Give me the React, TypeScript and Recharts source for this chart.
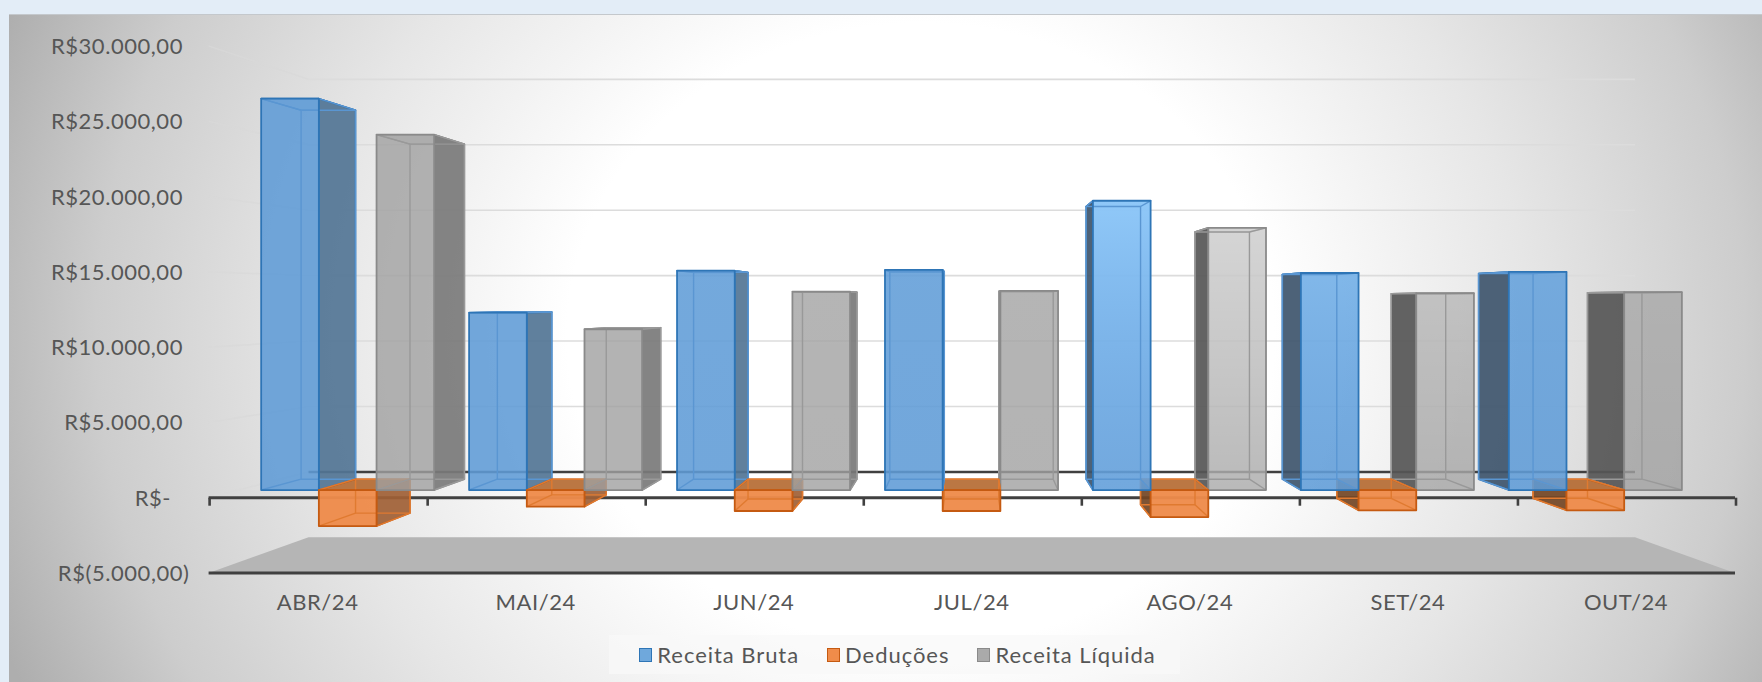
import React from "react";
import { ComposedChart, Bar, XAxis, YAxis, Legend } from "recharts";

const months = ["ABR/24", "MAI/24", "JUN/24", "JUL/24", "AGO/24", "SET/24", "OUT/24"];
const receitaBruta = [27050, 12260, 15160, 15210, 19990, 15000, 15070];
const deducoes = [-2490, -1150, -1450, -1450, -1870, -1400, -1400];
const receitaLiquida = [24560, 11110, 13710, 13760, 18120, 13600, 13670];
const yTicks = [-5000, 0, 5000, 10000, 15000, 20000, 25000, 30000];

// how much the light catches each month's front face (excel 3d lighting)
const faceLight = [0, 0, 0.05, 0.05, 0.9, 0.45, 0.15];

const rows = months.map((month, i) => ({
  month,
  bruta: receitaBruta[i],
  deducoes: deducoes[i],
  liquida: receitaLiquida[i],
}));

const W = 1762;
const H = 682;
const PLOT_LEFT = 208.6;
const PLOT_RIGHT = 1735;
const FONT = "Lato, 'Open Sans', sans-serif";
const TEXT = "#565656";

// perspective: everything shrinks towards one point as it goes back
const VX = 971.5;
const VY = 300.6;
const NEAR_X = 0.9536;
const NEAR_Y = 0.961;
const FAR_X = 0.9;
const FAR_Y = 0.906;
const BACK = 0.869;

const px = (x: number, s: number) => VX + (x - VX) * s;
const py = (y: number, s: number) => VY + (y - VY) * s;

type Palette = {
  face: string;
  faceOpacity: number;
  edge: string;
  inner: string;
  wallRight: string;
  wallLeft: string;
  top: string;
  topOpacity: number;
  swatch: string;
  glow: string | null;
};

const BLUE: Palette = {
  face: "#5f9bd6",
  faceOpacity: 0.88,
  edge: "#2e75b6",
  inner: "#5a96d2",
  wallRight: "#527595",
  wallLeft: "#3e556d",
  top: "#5f9bd6",
  topOpacity: 0.2,
  swatch: "#6fa8dc",
  glow: "url(#glowBlue)",
};
const ORANGE: Palette = {
  face: "#ee8b4b",
  faceOpacity: 0.96,
  edge: "#c55a11",
  inner: "#e07a30",
  wallRight: "#9f6035",
  wallLeft: "#734524",
  top: "#b4682f",
  topOpacity: 0.9,
  swatch: "#f08c4a",
  glow: null,
};
const GRAY: Palette = {
  face: "#a0a0a0",
  faceOpacity: 0.8,
  edge: "#8a8a8a",
  inner: "#999999",
  wallRight: "#7a7a7a",
  wallLeft: "#565656",
  top: "#9a9a9a",
  topOpacity: 0.15,
  swatch: "#aaaaaa",
  glow: "url(#glowGray)",
};

const palettes: Record<string, Palette> = { bruta: BLUE, deducoes: ORANGE, liquida: GRAY };

// paint order per layer: back to front, and the order flips right of the vanishing point
const FIRST_RIGHT_SIDE = 3;
const layerSeries = [
  { left: "bruta", right: "liquida" },
  { left: "deducoes", right: "deducoes" },
  { left: "liquida", right: "bruta" },
];

function poly(points: number[][]) {
  return points.map((p) => p.join(",")).join(" ");
}

function Box3D(props: any) {
  const { x, y, width, height, index, palette } = props;
  const p: Palette = palette;
  const left = x;
  const right = x + width;
  const top = Math.min(y, y + height);
  const bottom = Math.max(y, y + height);

  const nl = px(left, NEAR_X);
  const nr = px(right, NEAR_X);
  const nt = py(top, NEAR_Y);
  const nb = py(bottom, NEAR_Y);
  const fl = px(left, FAR_X);
  const fr = px(right, FAR_X);
  const ft = py(top, FAR_Y);
  const fb = py(bottom, FAR_Y);

  const showRight = fr > nr;
  const showLeft = fl < nl;
  const light = faceLight[index] ?? 0;

  return (
    <g strokeLinejoin="round">
      {/* top face, seen from above on the negative boxes */}
      <polygon points={poly([[nl, nt], [nr, nt], [fr, ft], [fl, ft]])} fill={p.top} fillOpacity={p.topOpacity} stroke={p.edge} strokeWidth={1.5} />
      {showRight && (
        <polygon points={poly([[nr, nt], [fr, ft], [fr, fb], [nr, nb]])} fill={p.wallRight} fillOpacity={0.92} stroke={p.edge} strokeWidth={1.5} />
      )}
      {showLeft && (
        <polygon points={poly([[nl, nt], [fl, ft], [fl, fb], [nl, nb]])} fill={p.wallLeft} fillOpacity={0.92} stroke={p.edge} strokeWidth={1.5} />
      )}
      <rect x={nl} y={nt} width={nr - nl} height={nb - nt} fill={p.face} fillOpacity={p.faceOpacity} />
      {light > 0 && p.glow && <rect x={nl} y={nt} width={nr - nl} height={nb - nt} fill={p.glow} opacity={light} />}
      {/* back edges showing through the glass */}
      <g fill="none" stroke={p.inner} strokeWidth={1.4}>
        <rect x={fl} y={ft} width={fr - fl} height={fb - ft} />
        <line x1={nl} y1={nt} x2={fl} y2={ft} />
        <line x1={nr} y1={nb} x2={fr} y2={fb} />
        <line x1={nl} y1={nb} x2={fl} y2={fb} />
        <line x1={nr} y1={nt} x2={fr} y2={ft} />
      </g>
      <rect x={nl} y={nt} width={nr - nl} height={nb - nt} fill="none" stroke={p.edge} strokeWidth={1.8} />
    </g>
  );
}

function moneyLabel(v: number) {
  if (v === 0) return "R$-";
  const txt = Math.abs(v).toLocaleString("pt-BR", { minimumFractionDigits: 2 });
  return v < 0 ? `R$(${txt})` : `R$${txt}`;
}

// side wall, back wall, floor and the zero line; sits in the chart behind the boxes
function WallTick(props: any) {
  const { y, payload } = props;
  const v: number = payload.value;
  const backY = py(y, BACK);
  const backL = px(PLOT_LEFT, BACK);
  const backR = px(PLOT_RIGHT, BACK);
  const step = (PLOT_RIGHT - PLOT_LEFT) / months.length;

  return (
    <g>
      {v < 0 ? (
        <polygon points={poly([[PLOT_LEFT, y], [backL, backY], [backR, backY], [PLOT_RIGHT, y]])} fill="#b5b5b5" />
      ) : (
        <line x1={PLOT_LEFT} y1={y} x2={backL} y2={backY} stroke="#d9d9d9" strokeOpacity={0.7} strokeWidth={1.5} />
      )}
      {v > 0 && <line x1={backL} y1={backY} x2={backR} y2={backY} stroke="#dcdcdc" strokeWidth={1.6} />}
      {v === 0 && (
        <g stroke="#404040">
          <line x1={backL} y1={backY} x2={backR} y2={backY} strokeWidth={2.5} />
          <line x1={PLOT_LEFT} y1={y} x2={PLOT_RIGHT} y2={y} strokeWidth={3} />
          {[...months, ""].map((m, i) => (
            <line key={i} x1={PLOT_LEFT + i * step + 1} y1={y} x2={PLOT_LEFT + i * step + 1} y2={y + 8} strokeWidth={2.6} />
          ))}
        </g>
      )}
    </g>
  );
}

function MoneyTick(props: any) {
  const { y, payload } = props;
  const v: number = payload.value;
  const labelX = v === 0 ? 171 : v < 0 ? 189.5 : 183;
  return (
    <text x={labelX} y={y} dy={8} textAnchor="end" fontFamily={FONT} fontSize={22} letterSpacing={0.55} fill={TEXT}>
      {moneyLabel(v)}
    </text>
  );
}

function LegendBox({ payload }: any) {
  return (
    <div
      style={{
        display: "flex",
        alignItems: "center",
        justifyContent: "center",
        height: 39,
        paddingLeft: 6,
        boxSizing: "border-box",
        background: "rgba(248,248,248,0.75)",
        fontFamily: FONT,
        fontSize: 22,
        letterSpacing: 0.95,
        color: TEXT,
      }}
    >
      {(payload ?? []).map((entry: any) => {
        const p = palettes[entry.dataKey];
        return (
          <span key={entry.dataKey} style={{ display: "inline-flex", alignItems: "center", margin: "0 14px" }}>
            <span
              style={{
                width: 11,
                height: 12,
                marginRight: 5,
                background: p.swatch,
                border: `1.5px solid ${p.edge}`,
              }}
            />
            {entry.value}
          </span>
        );
      })}
    </div>
  );
}

const chartProps = {
  width: W,
  height: H,
  data: rows,
  margin: { top: 46, right: W - PLOT_RIGHT, bottom: 0, left: 0 },
  barGap: 0,
  barSize: 60.5,
};
const layer = { position: "absolute", left: 0, top: 0 } as const;
const yAxisProps = {
  type: "number",
  width: PLOT_LEFT,
  domain: [-5000, 30000],
  ticks: yTicks,
  interval: 0,
  axisLine: false,
  tickLine: false,
} as const;

const seriesBars = [
  { key: "bruta", name: "Receita Bruta", palette: BLUE },
  { key: "deducoes", name: "Deduções", palette: ORANGE },
  { key: "liquida", name: "Receita Líquida", palette: GRAY },
];

// all three series stay in every layer so the band slots match; only the ones due are painted
function boxBars(order: { left: string; right: string }) {
  return seriesBars.map((s) => (
    <Bar
      key={s.key}
      dataKey={s.key}
      name={s.name}
      fill={s.palette.swatch}
      isAnimationActive={false}
      shape={(p: any) =>
        (p.index >= FIRST_RIGHT_SIDE ? order.right : order.left) === s.key ? <Box3D {...p} palette={s.palette} /> : <g />
      }
    />
  ));
}

export default function App() {
  return (
    <div style={{ position: "absolute", left: 0, top: 0, width: W, height: H, background: "#e3edf7", overflow: "hidden" }}>
      <div
        style={{
          position: "absolute",
          left: 9,
          top: 14,
          right: 0,
          bottom: 0,
          borderTop: "1px solid #c4c8cc",
          background: "radial-gradient(ellipse 56% 130% at 52% 48%, #ffffff 36%, #e6e6e6 62%, #cdcdcd 84%, #aeaeae 100%)",
        }}
      />
      <div style={layer}>
        {/* walls and floor live in their own chart so the boxes paint over them */}
        <ComposedChart {...chartProps}>
          <defs>
            <linearGradient id="glowBlue" x1="0" y1="0" x2="0" y2="1">
              <stop offset="0%" stopColor="#97d0ff" stopOpacity={0.9} />
              <stop offset="100%" stopColor="#7ab8f5" stopOpacity={0.1} />
            </linearGradient>
            <linearGradient id="glowGray" x1="0" y1="0" x2="0" y2="1">
              <stop offset="0%" stopColor="#ffffff" stopOpacity={0.5} />
              <stop offset="100%" stopColor="#ffffff" stopOpacity={0.1} />
            </linearGradient>
          </defs>
          <YAxis {...yAxisProps} tick={(p: any) => <WallTick {...p} />} />
          <XAxis dataKey="month" height={109} tick={false} tickLine={false} axisLine={false} />
          <Bar dataKey="bruta" fill="none" isAnimationActive={false} shape={() => <g />} />
        </ComposedChart>
      </div>
      {layerSeries.slice(0, 2).map((order, i) => (
        <div key={i} style={layer}>
          <ComposedChart {...chartProps}>
            <YAxis {...yAxisProps} tick={false} />
            <XAxis dataKey="month" height={109} tick={false} tickLine={false} axisLine={false} />
            {boxBars(order)}
          </ComposedChart>
        </div>
      ))}
      <div style={layer}>
        <ComposedChart {...chartProps}>
          <YAxis {...yAxisProps} tick={(p: any) => <MoneyTick {...p} />} />
          <XAxis
            dataKey="month"
            height={109}
            interval={0}
            tickLine={false}
            tickMargin={15}
            axisLine={{ stroke: "#404040", strokeWidth: 3 }}
            tick={{ fill: TEXT, fontFamily: FONT, fontSize: 22, letterSpacing: 0.55 }}
          />
          {boxBars(layerSeries[2])}
          <Legend
            layout="horizontal"
            verticalAlign="middle"
            align="center"
            itemSorter={null}
            wrapperStyle={{ top: 635, left: 609, width: 571, height: 39 }}
            content={(p: any) => <LegendBox payload={p.payload} />}
          />
        </ComposedChart>
      </div>
    </div>
  );
}
